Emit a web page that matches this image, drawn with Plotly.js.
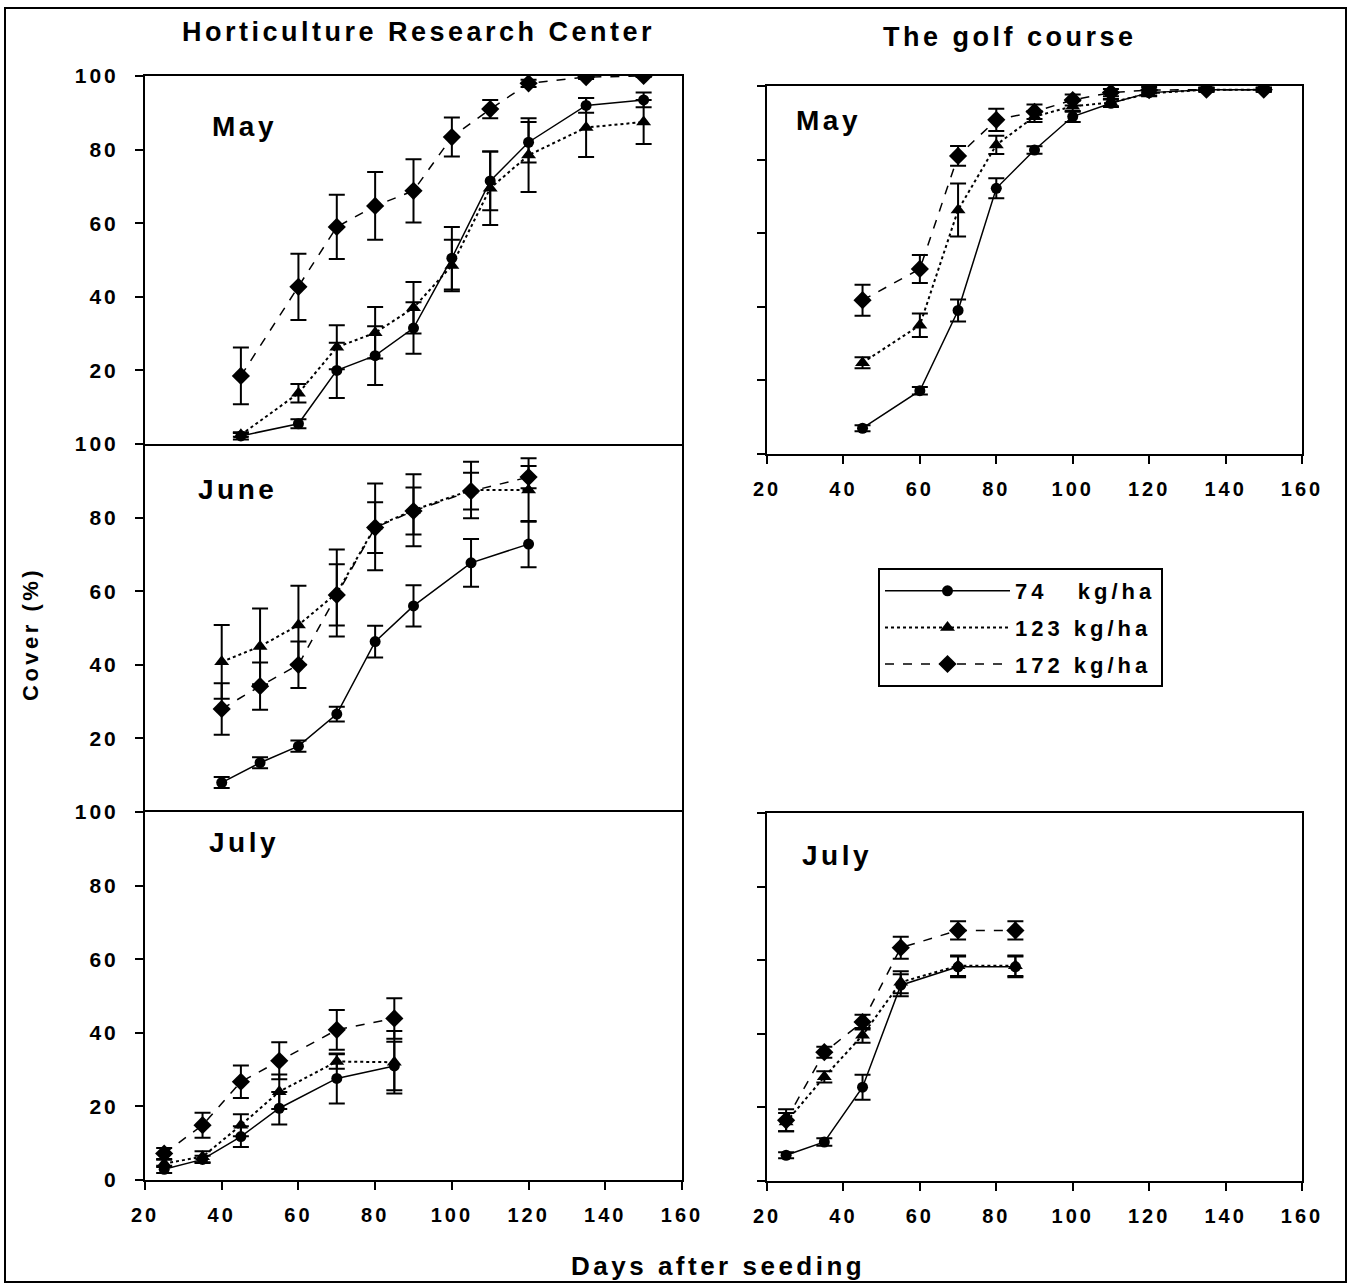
<!DOCTYPE html>
<html>
<head>
<meta charset="utf-8">
<script src="https://cdn.plot.ly/plotly-3.0.1.min.js"></script>
<style>
  html, body { margin: 0; padding: 0; background: #fff; }
  #chart { width: 1351px; height: 1285px; }
  .annotation-text { letter-spacing: 3.5px; }
  .legendtext { letter-spacing: 4px; }
  g[class*="tick"] text { letter-spacing: 3px; }
</style>
</head>
<body>
<div id="chart"></div>
<script>
// ---------- DATA ----------
const seriesNames = ['74\u00a0\u00a0 kg/ha', '123 kg/ha', '172 kg/ha'];

// Horticulture Research Center - May
const hrcMayDays = [45, 60, 70, 80, 90, 100, 110, 120, 135, 150];
const hrcMay74   = [2.2, 5.5, 20, 24, 31.5, 50.5, 71.5, 82, 92, 93.5];
const hrcMay74Err  = [1, 1.2, 7.5, 8, 7, 8.5, 8, 5.5, 2, 2];
const hrcMay123  = [2.5, 13.8, 26.3, 30.2, 37, 48.5, 69.5, 78.5, 86, 87.5];
const hrcMay123Err = [0.5, 2.5, 6, 7, 7, 7, 10, 10, 8, 6];
const hrcMay172  = [18.5, 42.7, 59, 64.7, 68.8, 83.4, 91, 98, 99.7, 100];
const hrcMay172Err = [7.7, 9, 8.7, 9.2, 8.6, 5.3, 2.5, 1, 0.5, 0.3];

// Horticulture Research Center - June
const hrcJunDays = [40, 50, 60, 70, 80, 90, 105, 120];
const hrcJun74   = [8, 13.4, 17.9, 26.6, 46.3, 56, 67.7, 72.8];
const hrcJun74Err  = [1.5, 1.5, 1.5, 2, 4.3, 5.6, 6.5, 6.3];
const hrcJun123  = [40.8, 45, 50.8, 59.5, 77.5, 82, 87.5, 87.5];
const hrcJun123Err = [10, 10.3, 10.7, 11.8, 11.8, 9.8, 7.7, 8.6];
const hrcJun172  = [28, 34.2, 40, 59, 77.3, 81.8, 87.2, 91];
const hrcJun172Err = [7, 6.4, 6.3, 8.3, 6.9, 6.4, 5, 3];

// Horticulture Research Center - July
const hrcJulDays = [25, 35, 45, 55, 70, 85];
const hrcJul74   = [2.9, 5.6, 11.8, 19.5, 27.6, 31];
const hrcJul74Err  = [1, 1, 2.8, 4.4, 6.8, 6.6];
const hrcJul123  = [4.5, 6.3, 14.9, 24, 32.2, 32];
const hrcJul123Err = [1, 1.5, 3, 4.7, 2, 8.5];
const hrcJul172  = [7.2, 14.9, 26.7, 32.4, 40.8, 43.9];
const hrcJul172Err = [1.5, 3.4, 4.4, 5, 5.4, 5.5];

// Golf course - May
const golfMayDays = [45, 60, 70, 80, 90, 100, 110, 120, 135, 150];
const golfMay74   = [7, 17.2, 39, 72.2, 82.6, 91.7, 95.3, 98.2, 99, 99];
const golfMay74Err  = [0.8, 1, 3, 2.7, 1, 1.5, 1, 0.8, 0.5, 0.5];
const golfMay123  = [24.8, 35, 66.3, 84, 91.7, 94.5, 95.5, 98, 99, 99];
const golfMay123Err = [1.5, 3.2, 7.2, 2.5, 1.5, 1.5, 1, 0.8, 0.5, 0.5];
const golfMay172  = [41.8, 50.3, 81, 90.8, 93, 96.2, 98.2, 98.9, 99, 99];
const golfMay172Err = [4.2, 3.8, 2.7, 3, 2, 1.5, 1, 0.8, 0.5, 0.5];

// Golf course - July
const golfJulDays = [25, 35, 45, 55, 70, 85];
const golfJul74   = [7, 10.6, 25.5, 53.2, 58.2, 58.2];
const golfJul74Err  = [0.8, 1, 3.4, 3, 2.8, 2.8];
const golfJul123  = [16, 28.3, 39.6, 54, 58.5, 58.5];
const golfJul123Err = [2.5, 1.5, 2, 3, 2.8, 2.8];
const golfJul172  = [16.5, 35, 43.2, 63.4, 68.1, 68.1];
const golfJul172Err = [3, 1.5, 2, 3, 2.5, 2.5];

const xTickVals = [20, 40, 60, 80, 100, 120, 140, 160];
const yTickValsTop = [20, 40, 60, 80, 100];
const yTickValsBottom = [0, 20, 40, 60, 80, 100];

// ---------- STYLES ----------
const styles = [
  { dash: 'solid', symbol: 'circle', size: 11, width: 1.5 },
  { dash: 'dot', symbol: 'triangle-up', size: 13, width: 2 },
  { dash: 'dash', symbol: 'diamond', size: 14, width: 1.5 }
];

function panel(days, vals, errs, xa, ya, legend) {
  return vals.map((v, i) => ({
    type: 'scatter', mode: 'lines+markers',
    x: days, y: v,
    xaxis: xa, yaxis: ya,
    name: seriesNames[i], legendgroup: 's' + i,
    showlegend: legend,
    line: { color: '#000', dash: styles[i].dash, width: styles[i].width },
    marker: { color: '#000', symbol: styles[i].symbol, size: styles[i].size },
    error_y: { type: 'data', array: errs[i], visible: true, color: '#000', thickness: 2, width: 8 }
  }));
}

const data = [].concat(
  panel(hrcMayDays, [hrcMay74, hrcMay123, hrcMay172], [hrcMay74Err, hrcMay123Err, hrcMay172Err], 'x', 'y', true),
  panel(hrcJunDays, [hrcJun74, hrcJun123, hrcJun172], [hrcJun74Err, hrcJun123Err, hrcJun172Err], 'x2', 'y2', false),
  panel(hrcJulDays, [hrcJul74, hrcJul123, hrcJul172], [hrcJul74Err, hrcJul123Err, hrcJul172Err], 'x3', 'y3', false),
  panel(golfMayDays, [golfMay74, golfMay123, golfMay172], [golfMay74Err, golfMay123Err, golfMay172Err], 'x4', 'y4', false),
  panel(golfJulDays, [golfJul74, golfJul123, golfJul172], [golfJul74Err, golfJul123Err, golfJul172Err], 'x5', 'y5', false)
);

// ---------- LAYOUT ----------
const W = 1351, H = 1285;
const px = v => v / W;
const py = v => 1 - v / H;
const FAM = 'Liberation Sans, Arial, sans-serif';
const tickFont = { family: FAM, size: 21, color: '#000', weight: 'bold' };

function xAx(domain, showTicks, anchor, showLine) {
  return {
    domain: domain, range: [20, 160], anchor: anchor,
    showline: showLine, linecolor: '#000', linewidth: 2, mirror: true,
    showgrid: false, zeroline: false,
    tickmode: 'array', tickvals: xTickVals,
    ticks: showTicks ? 'outside' : '', ticklen: 8, tickwidth: 2, tickcolor: '#000',
    showticklabels: showTicks, ticklabelstandoff: 8,
    tickfont: Object.assign({}, tickFont, { size: 20 })
  };
}
function yAx(domain, tickvals, showLabels, anchor) {
  return {
    domain: domain, range: [0, 100], anchor: anchor,
    showline: true, linecolor: '#000', linewidth: 2, mirror: true,
    showgrid: false, zeroline: false,
    tickmode: 'array', tickvals: tickvals,
    ticks: 'outside', ticklen: 8, tickwidth: 2, tickcolor: '#000',
    showticklabels: showLabels, tickfont: tickFont, ticklabelstandoff: 12
  };
}

const leftX = [px(145), px(682)];
const rightX = [px(767), px(1302)];

const annFont = (s) => ({ family: FAM, size: s, color: '#000', weight: 'bold' });
function ann(text, x, y, size, extra) {
  return Object.assign({ text: text, x: x, y: y, xref: 'paper', yref: 'paper',
    xanchor: 'center', yanchor: 'middle', showarrow: false, font: annFont(size) }, extra || {});
}

const layout = {
  width: W, height: H,
  margin: { l: 0, r: 0, t: 0, b: 0 },
  paper_bgcolor: '#fff', plot_bgcolor: '#fff',
  showlegend: true,
  legend: {
    x: px(878), y: py(568), xanchor: 'left', yanchor: 'top',
    bordercolor: '#000', borderwidth: 2, bgcolor: '#fff',
    font: { family: FAM, size: 22, color: '#000', weight: 'bold' },
    itemwidth: 125, tracegroupgap: 5,
    entrywidth: 212, entrywidthmode: 'pixels'
  },
  xaxis:  xAx(leftX, false, 'y', true),
  yaxis:  yAx([py(444), py(76)], yTickValsTop, true, 'x'),
  xaxis2: xAx(leftX, false, 'y2', false),
  yaxis2: yAx([py(812), py(444)], yTickValsTop, true, 'x2'),
  xaxis3: xAx(leftX, true, 'y3', true),
  yaxis3: yAx([py(1180), py(812)], yTickValsBottom, true, 'x3'),
  xaxis4: xAx(rightX, true, 'y4', true),
  yaxis4: yAx([py(454), py(86)], yTickValsBottom, false, 'x4'),
  xaxis5: xAx(rightX, true, 'y5', true),
  yaxis5: yAx([py(1181), py(813)], yTickValsBottom, false, 'x5'),
  annotations: [
    ann('Horticulture Research Center', px(418), py(32), 27),
    ann('The golf course', px(1010), py(37), 27),
    ann('Days after seeding', px(718), py(1266), 26),
    ann('Cover (%)', px(30), py(634), 22, { textangle: -90 }),
    ann('May', px(244), py(127), 28),
    ann('June', px(238), py(490), 28),
    ann('July', px(244), py(842), 28),
    ann('May', px(828), py(120), 28),
    ann('July', px(837), py(855), 28)
  ],
  shapes: [
    { type: 'rect', xref: 'paper', yref: 'paper', x0: px(5), x1: px(1346), y0: py(1282), y1: py(8),
      line: { color: '#000', width: 2 }, fillcolor: 'rgba(0,0,0,0)', layer: 'below' }
  ]
};

Plotly.newPlot('chart', data, layout, { displayModeBar: false, staticPlot: true });
</script>
</body>
</html>
